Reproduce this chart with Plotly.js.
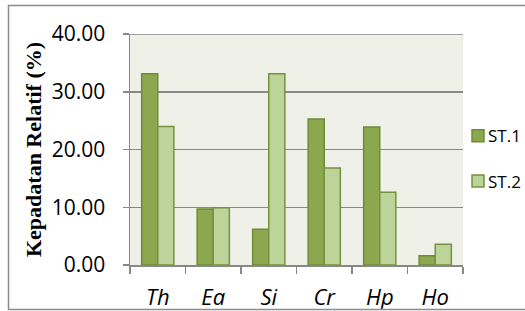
<!DOCTYPE html>
<html><head><meta charset="utf-8">
<script src="https://cdn.plot.ly/plotly-3.0.1.min.js"></script>
<style>html,body{margin:0;padding:0;background:#fff;}#chart{width:525px;height:311px;}</style>
</head><body><div id="chart"></div>
<script>
const categories = ["Th", "Ea", "Si", "Cr", "Hp", "Ho"];
const st1 = [33.1, 9.7, 6.2, 25.3, 23.9, 1.6];
const st2 = [24.0, 9.9, 33.1, 16.8, 12.6, 3.6];
const seriesNames = ["ST.1", "ST.2"];
const yTicks = [0, 10, 20, 30, 40];

const traces = [
  {type: "bar", x: categories, y: st1, name: seriesNames[0], legendgroup: "a",
   marker: {color: "#8BA84F", line: {color: "#6E8B3A", width: 1.5}}},
  {type: "bar", x: categories, y: st2, name: seriesNames[1], legendgroup: "b",
   marker: {color: "#BCD39A", line: {color: "#76923C", width: 1.5}}}
];

const layout = {
  width: 525, height: 311,
  margin: {l: 130, r: 62, t: 34, b: 46, autoexpand: false},
  paper_bgcolor: "#ffffff",
  plot_bgcolor: "#EFF1E9",
  barmode: "group", bargap: 0.42, bargroupgap: 0,
  showlegend: true,
  legend: {x: 0.985, y: 0.46, xanchor: "left", yanchor: "middle",
           font: {family: "Open Sans", size: 17, color: "#000"},
           tracegroupgap: 20, itemwidth: 30, bgcolor: "rgba(0,0,0,0)"},
  xaxis: {
    type: "category", tickvals: categories, ticktext: categories.map(c => "<i>" + c + "</i>"),
    tickson: "boundaries", ticks: "outside", ticklen: 7, tickcolor: "#888", tickwidth: 1.5,
    showline: true, linecolor: "#888", linewidth: 1.5, showgrid: false,
    tickfont: {family: "Open Sans", size: 22, color: "#000"},
    ticklabelstandoff: 12
  },
  yaxis: {
    range: [0, 40], tickvals: yTicks, ticktext: yTicks.map(v => v.toFixed(2)),
    ticks: "outside", ticklen: 6, tickcolor: "#888", tickwidth: 1.5,
    showline: true, linecolor: "#888", linewidth: 1.5,
    showgrid: true, gridcolor: "#888", gridwidth: 1.5, zeroline: false,
    tickfont: {family: "Open Sans", size: 21, color: "#000"},
    ticklabelstandoff: 13,
    title: {text: "<b>Kepadatan Relatif (%)</b>", standoff: 4,
            font: {family: "Liberation Serif", size: 22, color: "#000"}}
  },
  shapes: [{type: "line", xref: "paper", yref: "y", x0: 0, x1: 1, y0: yTicks[yTicks.length - 1], y1: yTicks[yTicks.length - 1],
            line: {color: "#888", width: 1.5}}]
};

Plotly.newPlot("chart", traces, layout, {displayModeBar: false, staticPlot: true}).then(function(){
  const svg = document.querySelector("#chart .main-svg");
  const r = document.createElementNS("http://www.w3.org/2000/svg", "rect");
  r.setAttribute("x", 8.5); r.setAttribute("y", 5.5);
  r.setAttribute("width", 530); r.setAttribute("height", 304);
  r.setAttribute("fill", "none"); r.setAttribute("stroke", "#8c8c8c"); r.setAttribute("stroke-width", 1.5);
  svg.appendChild(r);
  document.querySelectorAll("#chart .legend .legendtext").forEach(function(t){
    const x = parseFloat(t.getAttribute("x") || "40") - 10;
    t.setAttribute("x", x);
    t.querySelectorAll("tspan").forEach(function(s){ if (s.hasAttribute("x")) s.setAttribute("x", x); });
  });
  const lg = document.querySelector("#chart .legend");
  if (lg) lg.querySelectorAll("[clip-path]").forEach(function(e){ e.removeAttribute("clip-path"); });
});
</script>
</body></html>
